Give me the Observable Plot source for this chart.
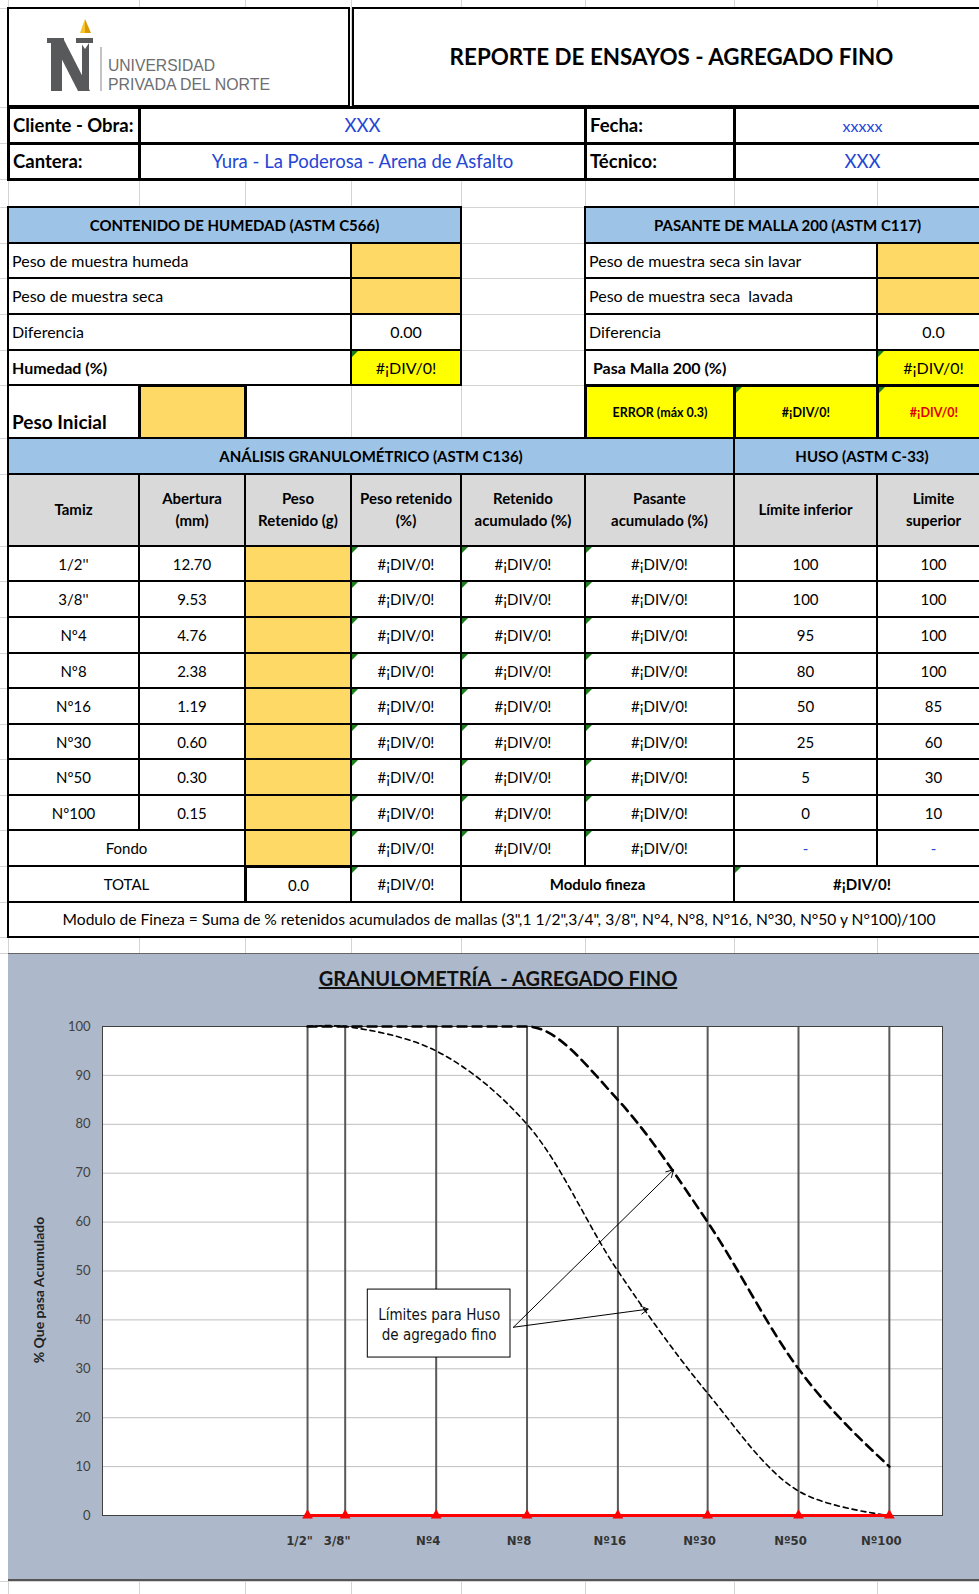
<!DOCTYPE html>
<html><head><meta charset="utf-8">
<script src="https://cdn.jsdelivr.net/npm/d3@7"></script>
<script src="https://cdn.jsdelivr.net/npm/@observablehq/plot@0.6"></script>
<style>
body{margin:0;background:#fff;}
#page{position:relative;width:979px;height:1594px;overflow:hidden;font-family:Lato,"Open Sans",sans-serif;color:#000;}
.c{position:absolute;box-sizing:border-box;display:flex;align-items:center;justify-content:center;text-align:center;background:#fff;line-height:1.2;white-space:pre;}
.l{justify-content:flex-start;padding-left:3px;}
.err::before{content:"";position:absolute;left:0;top:0;border-top:6px solid #1a7f1a;border-right:6px solid transparent;}
.g{position:absolute;background:#d4d4d4;}
#chartbg{position:absolute;left:8px;top:953px;width:980px;height:628px;background:#adb9ca;border-top:1.5px solid #666;border-bottom:2px solid #555;box-sizing:border-box;}
#ctitle{position:absolute;left:8px;width:980px;top:966px;text-align:center;font-weight:700;font-size:20px;text-decoration:underline;color:#111;}
#plot{position:absolute;left:8px;top:953px;}
</style></head>
<body><div id="page"></div>
<script>
// ---- data ----
const tamices = ["1/2''", "3/8''", "Nº4", "Nº8", "Nº16", "Nº30", "Nº50", "Nº100"];
const etiquetasGrafico = ['1/2"', '3/8"', "Nº4", "Nº8", "Nº16", "Nº30", "Nº50", "Nº100"];
const aberturasMm = [12.70, 9.53, 4.76, 2.38, 1.19, 0.60, 0.30, 0.15];
const limiteInferior = [100, 100, 95, 80, 50, 25, 5, 0];
const limiteSuperior = [100, 100, 100, 100, 85, 60, 30, 10];
const pasanteGrafico = [0, 0, 0, 0, 0, 0, 0, 0];
const yTicks = [0, 10, 20, 30, 40, 50, 60, 70, 80, 90, 100];
const humedadLabels = ["Peso de muestra humeda", "Peso de muestra seca", "Diferencia", "Humedad (%)"];
const humedadValores = ["", "", "0.00", "#¡DIV/0!"];
const mallaLabels = ["Peso de muestra seca sin lavar", "Peso de muestra seca  lavada", "Diferencia", " Pasa Malla 200 (%)"];
const mallaValores = ["", "", "0.0", "#¡DIV/0!"];
const encabezados = ["Tamiz", "Abertura<br>(mm)", "Peso<br>Retenido (g)", "Peso retenido<br>(%)", "Retenido<br>acumulado (%)", "Pasante<br>acumulado (%)", "Límite inferior", "Limite<br>superior"];
const errorTxt = "#¡DIV/0!";
const annotationBox = {x1: 8.02, x2: 2.70, y1: 32.3, y2: 46.2, text: "Límites para Huso\nde agregado fino"};
const annotationArrows = [
  {x1: 2.64, y1: 38.5, x2: 0.778, y2: 70.7},
  {x1: 2.64, y1: 38.5, x2: 0.945, y2: 42.2}
];

// ---- layout ----
const page = document.getElementById("page");
const X = [8, 139, 245, 351, 461, 585, 734, 877, 990];
const blue = "#2446d4", orange = "#ffd966", yellow = "#ffff00", blueH = "#9dc3e6", grayH = "#d9d9d9";
const rowsY = [546, 581, 617, 653, 688, 724, 759, 795, 830, 866, 902, 937];
const hY = [8, 107, 143, 179, 207, 243, 278, 314, 350, 385, 438, 474, ...rowsY, 953, 1581];

function g(x, y, w, h) {
  const d = document.createElement("div"); d.className = "g";
  Object.assign(d.style, {left: x + "px", top: y + "px", width: w + "px", height: h + "px"});
  page.appendChild(d);
}
hY.forEach(y => g(0, y, 979, 1));
X.forEach(x => g(x, 0, 1, 1594));

function cell(x1, y1, x2, y2, html, o = {}) {
  const bw = o.bw ?? 2;
  const d = document.createElement("div");
  d.className = "c" + (o.cls ? " " + o.cls : "");
  Object.assign(d.style, {
    left: Math.round(x1 - bw / 2) + "px", top: Math.round(y1 - bw / 2) + "px",
    width: (x2 - x1 + bw) + "px", height: (y2 - y1 + bw) + "px",
    border: `${bw}px solid #000`, background: o.bg || "#fff",
    fontSize: (o.fs || 15) + "px", fontWeight: o.b || 400, color: o.color || "#000"
  });
  if (o.lh) d.style.lineHeight = o.lh;
  if (o.end) { d.style.alignItems = "flex-end"; d.style.paddingBottom = "3px"; }
  d.innerHTML = html;
  page.appendChild(d);
  return d;
}

// header
cell(8, 8, 349, 106, "", {bw: 2});
cell(353, 8, 990, 106, "REPORTE DE ENSAYOS - AGREGADO FINO", {b: 700, fs: 22.4, bw: 2});
page.insertAdjacentHTML("beforeend", `
<svg style="position:absolute;left:0;top:0" width="350" height="106">
  <polygon points="85,19 80,33 85,33" fill="#f7c325"/>
  <polygon points="85,19 85,33 91,33" fill="#d99a06"/>
  <rect x="47" y="38" width="17" height="5" fill="#58595b"/>
  <rect x="51" y="38" width="11" height="53" fill="#58595b"/>
  <polygon points="51,38 63,38 90,91 78,91" fill="#58595b"/>
  <rect x="76" y="38" width="17" height="5" fill="#58595b"/>
  <rect x="82" y="38" width="7" height="53" fill="#58595b"/>
  <polygon points="81,43 85,49 89,43" fill="#fff"/>
  <line x1="101" y1="47" x2="101" y2="91" stroke="#888" stroke-width="1"/>
  <text x="108" y="71" font-family="Liberation Sans, Arial, sans-serif" font-size="17" fill="#6d6e71" textLength="107" lengthAdjust="spacingAndGlyphs">UNIVERSIDAD</text>
  <text x="108" y="90" font-family="Liberation Sans, Arial, sans-serif" font-size="17" fill="#6d6e71" textLength="162" lengthAdjust="spacingAndGlyphs">PRIVADA DEL NORTE</text>
</svg>`);

// cliente / cantera
cell(8, 107, 139, 143, "Cliente - Obra:", {cls: "l", b: 700, fs: 18.5, bw: 3});
cell(139, 107, 585, 143, "XXX", {color: blue, fs: 18.5, bw: 3});
cell(585, 107, 734, 143, "Fecha:", {cls: "l", b: 700, fs: 18.5, bw: 3});
cell(734, 107, 990, 143, "xxxxx", {color: blue, fs: 16, bw: 3});
cell(8, 143, 139, 179, "Cantera:", {cls: "l", b: 700, fs: 18.5, bw: 3});
cell(139, 143, 585, 179, "Yura - La Poderosa - Arena de Asfalto", {color: blue, fs: 18.5, bw: 3});
cell(585, 143, 734, 179, "Técnico:", {cls: "l", b: 700, fs: 18.5, bw: 3});
cell(734, 143, 990, 179, "XXX", {color: blue, fs: 18.5, bw: 3});

// humedad
const hRows = [243, 278, 314, 350, 385];
cell(8, 207, 461, 243, "CONTENIDO DE HUMEDAD (ASTM C566)", {bg: blueH, b: 700, fs: 15});
humedadLabels.forEach((t, i) => {
  cell(8, hRows[i], 351, hRows[i + 1], t, {cls: "l", fs: 16, b: i === 3 ? 700 : 400});
  cell(351, hRows[i], 461, hRows[i + 1], humedadValores[i], {bg: i < 2 ? orange : i === 3 ? yellow : "#fff", cls: i === 3 ? "err" : "", fs: 16});
});
// malla 200
cell(585, 207, 990, 243, "PASANTE DE MALLA 200 (ASTM C117)", {bg: blueH, b: 700, fs: 15});
mallaLabels.forEach((t, i) => {
  cell(585, hRows[i], 877, hRows[i + 1], t, {cls: "l", fs: 16, b: i === 3 ? 700 : 400});
  cell(877, hRows[i], 990, hRows[i + 1], mallaValores[i], {bg: i < 2 ? orange : i === 3 ? yellow : "#fff", cls: i === 3 ? "err" : "", fs: 16});
});
// peso inicial / error
cell(8, 385, 139, 438, "Peso Inicial", {cls: "l", b: 700, fs: 19, end: true});
cell(139, 385, 245, 438, "", {bg: orange, bw: 3});
cell(585, 385, 734, 438, "ERROR (máx 0.3)", {bg: yellow, b: 700, fs: 12.5, bw: 3});
cell(734, 385, 877, 438, errorTxt, {bg: yellow, b: 700, fs: 12.5, bw: 3, cls: "err"});
cell(877, 385, 990, 438, errorTxt, {bg: yellow, b: 700, fs: 12.5, bw: 3, cls: "err", color: "#e00000"});

// analisis
cell(8, 438, 734, 474, "ANÁLISIS GRANULOMÉTRICO (ASTM C136)", {bg: blueH, b: 700, fs: 15});
cell(734, 438, 990, 474, "HUSO (ASTM C-33)", {bg: blueH, b: 700, fs: 15});
encabezados.forEach((t, i) => cell(X[i], 474, X[i + 1], 546, t, {bg: grayH, b: 700, fs: 15, lh: 1.45}));
tamices.forEach((t, i) => {
  const y1 = rowsY[i], y2 = rowsY[i + 1];
  cell(X[0], y1, X[1], y2, t);
  cell(X[1], y1, X[2], y2, aberturasMm[i].toFixed(2));
  cell(X[2], y1, X[3], y2, "", {bg: orange});
  cell(X[3], y1, X[4], y2, errorTxt, {cls: "err"});
  cell(X[4], y1, X[5], y2, errorTxt, {cls: "err"});
  cell(X[5], y1, X[6], y2, errorTxt, {cls: "err"});
  cell(X[6], y1, X[7], y2, String(limiteInferior[i]));
  cell(X[7], y1, X[8], y2, String(limiteSuperior[i]));
});
{
  const y1 = rowsY[8], y2 = rowsY[9];
  cell(X[0], y1, X[2], y2, "Fondo");
  cell(X[2], y1, X[3], y2, "", {bg: orange});
  cell(X[3], y1, X[4], y2, errorTxt, {cls: "err"});
  cell(X[4], y1, X[5], y2, errorTxt, {cls: "err"});
  cell(X[5], y1, X[6], y2, errorTxt, {cls: "err"});
  cell(X[6], y1, X[7], y2, "-", {color: blue});
  cell(X[7], y1, X[8], y2, "-", {color: blue});
}
{
  const y1 = rowsY[9], y2 = rowsY[10];
  cell(X[0], y1, X[2], y2, "TOTAL");
  cell(X[2], y1, X[3], y2, "0.0", {bw: 3});
  cell(X[3], y1, X[4], y2, errorTxt, {cls: "err"});
  cell(X[4], y1, X[6], y2, "Modulo fineza", {b: 700});
  cell(X[6], y1, X[8], y2, errorTxt, {b: 700, cls: "err"});
}
cell(8, rowsY[10], 990, rowsY[11], 'Modulo de Fineza = Suma de % retenidos acumulados de mallas (3",1 1/2",3/4", 3/8", N°4, N°8, N°16, N°30, N°50 y N°100)/100', {fs: 15.6});

// ---- chart ----
page.insertAdjacentHTML("beforeend", `<div id="chartbg"></div><div id="ctitle">GRANULOMETRÍA&nbsp; - AGREGADO FINO</div>`);

const chartData = aberturasMm.map((mm, i) => ({
  mm, tamiz: etiquetasGrafico[i], inf: limiteInferior[i], sup: limiteSuperior[i], pas: pasanteGrafico[i]
}));
const narrow = "'Liberation Sans Narrow', 'DejaVu Sans Condensed', sans-serif";

const chart = Plot.plot({
  width: 971, height: 628,
  marginTop: 73, marginBottom: 66, marginLeft: 94, marginRight: 37,
  style: {background: "transparent", fontFamily: "Lato, sans-serif", fontSize: "13px", overflow: "visible"},
  x: {type: "log", domain: [60.7, 0.1], axis: null},
  y: {domain: [0, 100], axis: null},
  marks: [
    Plot.frame({fill: "white"}),
    Plot.gridY(yTicks, {stroke: "#bfbfbf", strokeOpacity: 1, strokeWidth: 1}),
    Plot.ruleX(chartData, {x: "mm", y1: 0, y2: 100, stroke: "#595959", strokeWidth: 2}),
    Plot.frame({stroke: "#404040", strokeWidth: 1}),
    Plot.line(chartData, {x: "mm", y: "inf", curve: "catmull-rom", stroke: "#000", strokeWidth: 1.6, strokeDasharray: "5,4"}),
    Plot.line(chartData, {x: "mm", y: "sup", curve: "monotone-x", stroke: "#000", strokeWidth: 2.6, strokeDasharray: "9,6"}),
    Plot.line(chartData, {x: "mm", y: "pas", stroke: "#ff0000", strokeWidth: 3}),
    Plot.dot(chartData, {x: "mm", y: "pas", symbol: "triangle", fill: "#ff0000", r: 4}),
    Plot.axisY(yTicks, {tickSize: 0, tickPadding: 12, fontSize: 13, fill: "#404040", label: null}),
    Plot.text(chartData, {x: "mm", y: 0, text: "tamiz", dy: 25, dx: -8, fontWeight: "bold", fontSize: 13, fill: "#333", fontFamily: narrow}),
    Plot.text(["% Que pasa Acumulado"], {frameAnchor: "left", textAnchor: "middle", dx: -63, dy: 19, rotate: -90, fontWeight: "bold", fontSize: 14, fill: "#222"}),
    Plot.rect([annotationBox], {x1: "x1", x2: "x2", y1: "y1", y2: "y2", fill: "white", stroke: "#000", strokeWidth: 1}),
    Plot.text([annotationBox], {x: d => Math.sqrt(d.x1 * d.x2), y: d => (d.y1 + d.y2) / 2, text: "text", fontSize: 15, lineHeight: 1.3, fill: "#111", fontFamily: narrow}),
    Plot.arrow(annotationArrows, {x1: "x1", y1: "y1", x2: "x2", y2: "y2", stroke: "#000", strokeWidth: 1, headLength: 12, bend: 0})
  ]
});
chart.id = "plot";
page.appendChild(chart);
</script>
</body></html>
